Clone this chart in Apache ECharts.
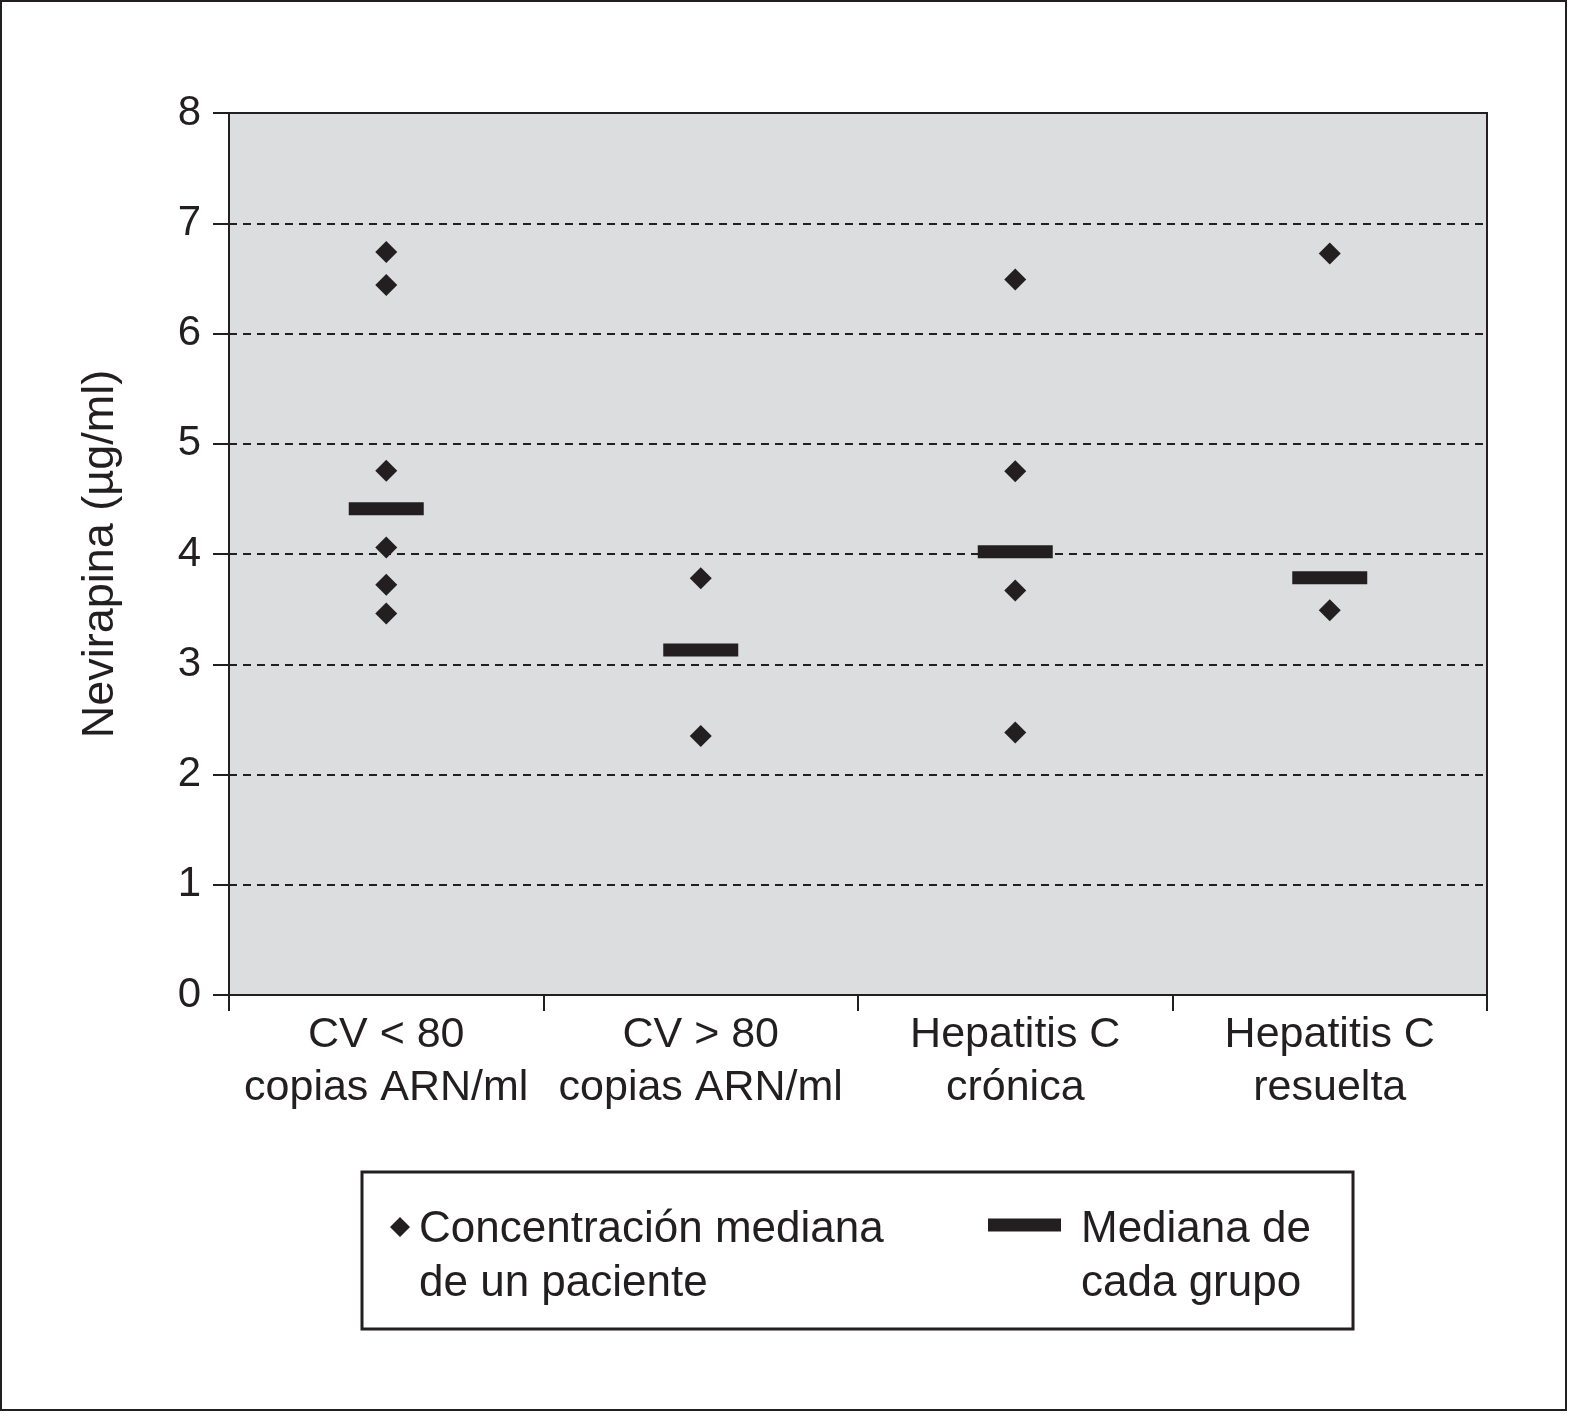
<!DOCTYPE html>
<html>
<head>
<meta charset="utf-8">
<script src="https://cdn.jsdelivr.net/npm/echarts@6/dist/echarts.min.js"></script>
<style>
html,body{margin:0;padding:0;background:#fff;}
#c{width:1575px;height:1419px;}
</style>
</head>
<body>
<div id="c"></div>
<script>
const categories = ['CV < 80\ncopias ARN/ml', 'CV > 80\ncopias ARN/ml', 'Hepatitis C\ncrónica', 'Hepatitis C\nresuelta'];
const patientValues = [
  [6.74, 6.44, 4.755, 4.06, 3.72, 3.46],
  [3.78, 2.35],
  [6.49, 4.75, 3.67, 2.38],
  [6.725, 3.49]
];
const groupMedians = [4.41, 3.13, 4.02, 3.785];
const yTicks = [0, 1, 2, 3, 4, 5, 6, 7, 8];
const seriesNames = ['Concentración mediana\nde un paciente', 'Mediana de\ncada grupo'];

const ink = '#231f20';
const font = "'Liberation Sans', Arial, Helvetica, sans-serif";

const patientData = [];
patientValues.forEach((vals, i) => vals.forEach(v => patientData.push([i, v])));
const medianData = groupMedians.map((v, i) => [i, v]);

// legend icons: the visible mark sits at the top of a taller (invisible) box,
// so it lines up with the first line of the two-line legend text
const diamondIcon = 'path://M0,0 L0.01,0 M10,0 L20,10 L10,20 L0,10 Z M0,80 L0.01,80';
const barIcon = 'path://M0,0 L0.01,0 M0,1.5 L73,1.5 L73,14.5 L0,14.5 Z M0,80 L0.01,80';

const chart = echarts.init(document.getElementById('c'));
chart.setOption({
  backgroundColor: '#fff',
  animation: false,
  textStyle: { fontFamily: font, color: ink },
  grid: {
    left: 229, top: 113, right: 88, bottom: 424,
    show: true, backgroundColor: '#dcdddf', borderColor: ink, borderWidth: 2
  },
  xAxis: {
    type: 'category',
    data: categories,
    boundaryGap: true,
    axisLine: { lineStyle: { color: ink, width: 2 } },
    axisTick: { show: true, length: 16, alignWithLabel: false, lineStyle: { color: ink, width: 2 } },
    axisLabel: { fontSize: 43, lineHeight: 53, color: ink, margin: 14, fontFamily: font, interval: 0 },
    splitLine: { show: false }
  },
  yAxis: {
    type: 'value',
    min: yTicks[0], max: yTicks[yTicks.length - 1], interval: 1,
    name: 'Nevirapina (µg/ml)',
    nameLocation: 'middle',
    nameRotate: 90,
    nameGap: 106,
    nameTextStyle: { fontSize: 45, color: ink, fontFamily: font },
    axisLine: { show: true, lineStyle: { color: ink, width: 2 } },
    axisTick: { show: true, length: 16, lineStyle: { color: ink, width: 2 } },
    axisLabel: { fontSize: 42, color: ink, margin: 28, fontFamily: font },
    splitLine: { show: true, lineStyle: { color: ink, width: 2, type: [8, 6] } }
  },
  legend: [
    {
      data: [{ name: seriesNames[0], icon: diamondIcon }],
      left: 385, top: 1198,
      itemWidth: 20, itemHeight: 80,
      textStyle: { fontSize: 44, lineHeight: 54, color: ink, fontFamily: font, padding: [0, 0, 0, 4] },
      selectedMode: false
    },
    {
      data: [{ name: seriesNames[1], icon: barIcon }],
      left: 983, top: 1198,
      itemWidth: 73, itemHeight: 80,
      textStyle: { fontSize: 44, lineHeight: 54, color: ink, fontFamily: font, padding: [0, 0, 0, 15] },
      selectedMode: false
    }
  ],
  graphic: [
    { type: 'rect', shape: { x: 1, y: 1, width: 1565, height: 1409 }, style: { fill: 'none', stroke: ink, lineWidth: 2 }, silent: true },
    { type: 'rect', shape: { x: 362, y: 1172, width: 991, height: 157 }, style: { fill: 'none', stroke: ink, lineWidth: 3 }, silent: true }
  ],
  series: [
    {
      name: seriesNames[0],
      type: 'scatter',
      symbol: 'diamond',
      symbolSize: 22,
      itemStyle: { color: ink, opacity: 1 },
      data: patientData,
      z: 3
    },
    {
      name: seriesNames[1],
      type: 'scatter',
      symbol: 'rect',
      symbolSize: [75, 13],
      itemStyle: { color: ink, opacity: 1 },
      data: medianData,
      z: 4
    }
  ]
});
</script>
</body>
</html>
